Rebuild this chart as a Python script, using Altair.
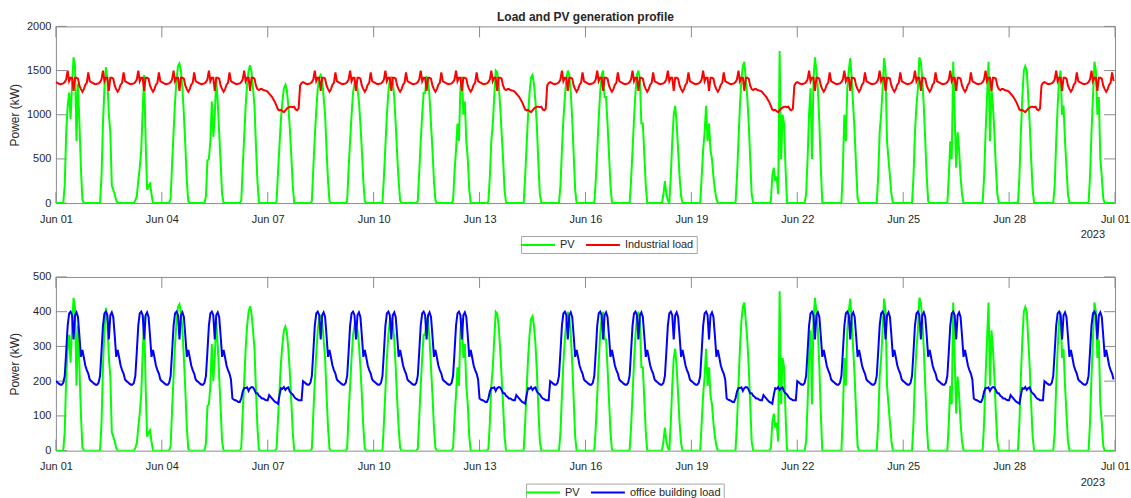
import altair as alt
import pandas as pd

START = "2023-06-01"
N_DAYS = 30

# Day type of each day of the month (drives the load profiles)
day_kind = ["wd", "wd", "wd", "wd", "wd", "sat", "sun",
            "wd", "wd", "wd", "wd", "wd", "sat", "sun",
            "wd", "wd", "wd", "wd", "wd", "sat", "sun",
            "wd", "wd", "wd", "wd", "wd", "sat", "sun",
            "wd", "wd"]

# Industrial load profile, kW, hours 0..23
ind_weekday = [1370, 1360, 1350, 1345, 1350, 1355, 1370, 1400, 1500, 1380, 1420, 1420,
               1270, 1420, 1420, 1410, 1330, 1290, 1260, 1290, 1340, 1360, 1480, 1380]
ind_saturday = [1370, 1360, 1350, 1345, 1350, 1355, 1370, 1400, 1500, 1380, 1420, 1420,
                1270, 1420, 1420, 1410, 1330, 1290, 1280, 1290, 1290, 1280, 1275, 1270]
ind_sunday = [1260, 1240, 1220, 1200, 1170, 1140, 1100, 1060, 1050, 1055, 1040, 1030,
              1050, 1070, 1080, 1090, 1090, 1085, 1090, 1060, 1050, 1070, 1330, 1360]

# Office building load profile, kW, hours 0..23
office_weekday = [200, 197, 193, 190, 190, 195, 215, 285, 360, 395, 400, 390,
                  320, 390, 398, 385, 330, 270, 290, 268, 245, 232, 222, 205]
office_saturday = [150, 147, 145, 143, 140, 140, 150, 170, 180, 180, 182, 172,
                   180, 183, 182, 175, 165, 165, 158, 155, 150, 150, 147, 145]
office_sunday = [145, 160, 155, 150, 145, 140, 138, 135, 160, 180, 178, 183,
                 175, 180, 182, 170, 165, 162, 155, 150, 148, 145, 145, 145]

# PV output of the industrial plant, kW, hours 5..19 of each day
PV_FIRST_HOUR = 5
pv_kw = [
    [0, 200, 800, 1100, 1250, 950, 1350, 1650, 1550, 700, 1350, 900, 400, 40, 0],
    [0, 0, 300, 900, 1300, 1540, 1400, 1000, 800, 200, 150, 100, 30, 0, 0],
    [0, 30, 80, 250, 400, 600, 1050, 1450, 700, 150, 200, 220, 100, 0, 0],
    [0, 50, 450, 800, 1150, 1400, 1550, 1580, 1500, 1300, 1000, 650, 250, 20, 0],
    [0, 80, 480, 500, 700, 1150, 750, 1000, 1400, 1150, 800, 450, 100, 0, 0],
    [0, 30, 400, 750, 1100, 1350, 1500, 1560, 1480, 1300, 1100, 650, 250, 10, 0],
    [0, 20, 350, 650, 950, 1150, 1300, 1340, 1280, 1100, 850, 550, 200, 0, 0],
    [0, 20, 400, 750, 1050, 1300, 1420, 1450, 1400, 1200, 1000, 600, 250, 20, 0],
    [0, 20, 400, 700, 1000, 1250, 1350, 1350, 1300, 1150, 900, 600, 250, 20, 0],
    [0, 0, 300, 650, 1000, 1250, 1400, 1420, 1380, 1200, 900, 550, 250, 30, 0],
    [0, 20, 350, 700, 1000, 1250, 1250, 1420, 1400, 1200, 900, 600, 250, 30, 0],
    [0, 30, 350, 600, 900, 700, 1300, 1430, 1000, 1150, 700, 500, 150, 0, 0],
    [0, 20, 300, 700, 900, 1200, 1500, 1480, 1350, 1100, 800, 500, 150, 0, 0],
    [0, 0, 300, 650, 1000, 1250, 1420, 1450, 1350, 1150, 850, 450, 100, 0, 0],
    [0, 0, 200, 600, 950, 1200, 1400, 1500, 1450, 1250, 950, 550, 150, 0, 0],
    [0, 0, 250, 600, 950, 1250, 1450, 1500, 1200, 1200, 900, 550, 200, 10, 0],
    [0, 0, 250, 600, 950, 1250, 1450, 1500, 1400, 900, 900, 550, 200, 0, 0],
    [100, 250, 100, 30, 0, 300, 700, 1000, 1100, 900, 600, 300, 80, 0, 0],
    [0, 0, 300, 600, 800, 1100, 700, 900, 600, 500, 300, 150, 50, 0, 0],
    [0, 0, 300, 700, 1100, 1400, 1550, 1600, 1400, 1200, 900, 500, 100, 0, 0],
    [0, 20, 300, 400, 250, 300, 100, 1720, 500, 1000, 900, 400, 0, 0, 0],
    [0, 100, 500, 1000, 1300, 500, 1400, 1650, 1500, 1300, 900, 400, 0, 0, 0],
    [0, 0, 400, 1000, 700, 1300, 1500, 1640, 1400, 1100, 800, 400, 50, 0, 0],
    [0, 0, 300, 800, 1000, 1300, 1640, 1500, 700, 500, 300, 100, 0, 0, 0],
    [0, 0, 300, 800, 1100, 1300, 1650, 1600, 1400, 1100, 700, 300, 20, 0, 0],
    [0, 0, 300, 700, 500, 1600, 1000, 400, 800, 600, 300, 100, 0, 0, 0],
    [0, 0, 300, 800, 1200, 1600, 700, 1300, 1100, 800, 400, 100, 0, 0, 0],
    [0, 0, 300, 800, 1200, 1500, 1550, 1500, 1200, 900, 500, 150, 0, 0, 0],
    [0, 0, 200, 700, 1100, 1400, 1500, 1000, 1100, 700, 400, 100, 0, 0, 0],
    [0, 0, 300, 800, 1200, 1600, 1500, 1000, 1200, 500, 300, 50, 0, 0, 0],
]
# office PV plant is 400 kWp against 1500 kWp at the industrial site
OFFICE_PV_RATIO = 400 / 1500

x_tick_labels = ["2023-06-01", "2023-06-04", "2023-06-07", "2023-06-10", "2023-06-13",
                 "2023-06-16", "2023-06-19", "2023-06-22", "2023-06-25", "2023-06-28",
                 "2023-07-01"]

# ---------------------------------------------------------------- data tables
profiles_ind = {"wd": ind_weekday, "sat": ind_saturday, "sun": ind_sunday}
profiles_off = {"wd": office_weekday, "sat": office_saturday, "sun": office_sunday}

industrial = [v for k in day_kind for v in profiles_ind[k]]
office = [v for k in day_kind for v in profiles_off[k]]
pv = []
for day in pv_kw:
    row = [0] * 24
    row[PV_FIRST_HOUR:PV_FIRST_HOUR + len(day)] = day
    pv.extend(row)
office_pv = [p * OFFICE_PV_RATIO for p in pv]

time = list(pd.date_range(START, periods=N_DAYS * 24, freq="h").strftime("%Y-%m-%dT%H:%M:%S"))


def long_table(pv_vals, load_vals, load_name):
    return pd.DataFrame({
        "time": time + time,
        "kW": list(pv_vals) + list(load_vals),
        "series": ["PV"] * len(time) + [load_name] * len(time),
    })


# ---------------------------------------------------------------- styling
FONT = "Liberation Sans"
TXT = "#262626"
BOX = "#8c8c8c"
TICK_LEN = 11
WIDTH = 1061
# a 34 px long legend line on a small nominal symbol size
LEGEND_LINE = "M-3.4,0H3.4"


def dt(s):
    y, m, d = (int(p) for p in s.split("-"))
    return alt.DateTime(year=y, month=m, date=d)


x_tick_dt = [dt(s) for s in x_tick_labels]
x_scale = alt.Scale(domain=[x_tick_dt[0], x_tick_dt[-1]])
x_axis = alt.Axis(values=x_tick_dt, format="%b %d", title=None, ticks=False,
                  domain=False, grid=False, labelFont=FONT, labelFontSize=11,
                  labelColor=TXT, labelPadding=10, labelOverlap=False,
                  labelFlush=False, labelBound=False)
x_ticks_df = pd.DataFrame({"t": [s + "T00:00:00" for s in x_tick_labels]})


def panel(pv_vals, load_vals, load_name, load_color, y_max, y_step, height,
          legend_x, legend_y, title_padding, title=None):
    data = long_table(pv_vals, load_vals, load_name)
    y_scale = alt.Scale(domain=[0, y_max], nice=False)
    y_values = list(range(0, y_max + 1, y_step))
    y_axis = alt.Axis(values=y_values, format="d", title="Power (kW)", ticks=False,
                      domain=False, grid=False, labelFont=FONT, labelFontSize=11,
                      labelColor=TXT, labelPadding=5, titleFont=FONT, titleFontSize=12,
                      titleFontWeight="normal", titleColor=TXT,
                      titlePadding=title_padding)
    color_scale = alt.Scale(domain=["PV", load_name], range=["#00ff00", load_color])
    legend = alt.Legend(orient="none", legendX=legend_x, legendY=legend_y,
                        direction="horizontal", title=None, symbolType=LEGEND_LINE,
                        symbolSize=100, symbolStrokeWidth=2, symbolOffset=8,
                        labelFont=FONT, labelFontSize=11, labelColor=TXT,
                        labelOffset=16, columnPadding=7, padding=3,
                        strokeColor="#a6a6a6", fillColor="white", labelLimit=300)

    x_enc = alt.X("t:T", scale=x_scale, axis=x_axis)
    tick_bottom = alt.Chart(x_ticks_df).mark_rule(color=BOX).encode(
        x=x_enc, y=alt.value(height), y2=alt.value(height - TICK_LEN))
    tick_top = alt.Chart(x_ticks_df).mark_rule(color=BOX).encode(
        x=x_enc, y=alt.value(0), y2=alt.value(TICK_LEN))

    y_ticks_df = pd.DataFrame({"v": y_values})
    y_enc = alt.Y("v:Q", scale=y_scale, axis=y_axis)
    tick_left = alt.Chart(y_ticks_df).mark_rule(color=BOX).encode(
        y=y_enc, x=alt.value(0), x2=alt.value(TICK_LEN))
    tick_right = alt.Chart(y_ticks_df).mark_rule(color=BOX).encode(
        y=y_enc, x=alt.value(WIDTH - TICK_LEN), x2=alt.value(WIDTH))

    base = alt.Chart(data).mark_line(strokeWidth=2, clip=True).encode(
        x=alt.X("time:T", scale=x_scale, axis=x_axis),
        y=alt.Y("kW:Q", scale=y_scale, axis=y_axis),
        color=alt.Color("series:N", scale=color_scale, legend=legend),
    )
    # PV first, the load drawn over it
    pv_line = base.transform_filter(alt.datum.series == "PV")
    load_line = base.transform_filter(alt.datum.series == load_name)

    year = alt.Chart(pd.DataFrame({"t": ["2023-07-01T00:00:00"], "s": ["2023"]})).mark_text(
        align="right", baseline="top", dx=-10, dy=26, font=FONT, fontSize=11, color=TXT
    ).encode(x=x_enc, y=alt.value(height), text="s:N")

    layer = alt.layer(tick_bottom, tick_top, tick_left, tick_right, pv_line, load_line, year)
    props = dict(width=WIDTH, height=height)
    if title:
        props["title"] = alt.Title(title, font=FONT, fontSize=12, fontWeight="bold",
                                   color=TXT, anchor="middle", frame="group", offset=-4)
    return layer.properties(**props)


top = panel(pv, industrial, "Industrial load", "#ff0000", 2000, 500, 177,
            466, 210, 5, title="Load and PV generation profile")
bottom = panel(office_pv, office, "office building load", "#0000ff", 500, 100, 174,
               471, 207, 11)

chart = alt.vconcat(top, bottom, spacing=74, bounds="flush").resolve_scale(
    color="independent", y="independent"
).configure_view(stroke=BOX, strokeWidth=1).properties(
    padding={"left": 8, "top": 10, "right": 0, "bottom": 0},
    background="white",
)

chart.save("out.html", embed_options={"renderer": "svg", "actions": False})
